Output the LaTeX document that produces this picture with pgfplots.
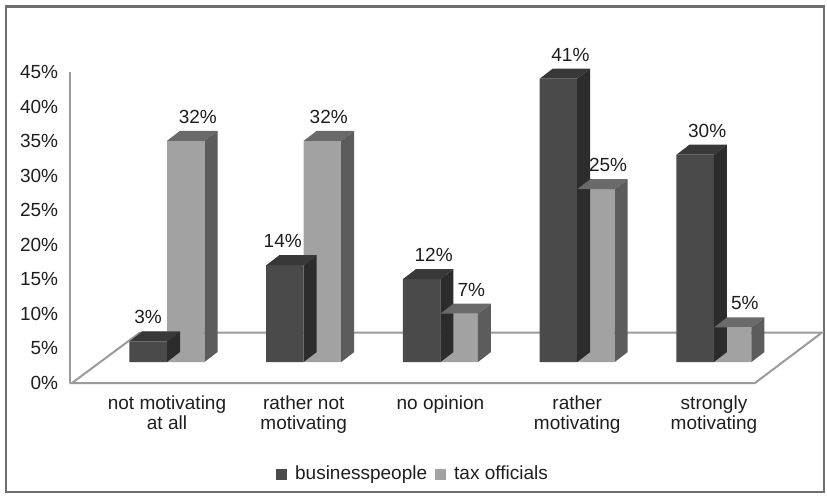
\documentclass[border=0pt]{standalone}
\usepackage{pgfplots}
\pgfplotsset{compat=1.18}
\usepackage{pgfplotstable}
\usepackage{fontspec}
\setmainfont{Liberation Sans}

\definecolor{bizfront}{RGB}{74,74,74}
\definecolor{biztop}{RGB}{56,56,56}
\definecolor{bizside}{RGB}{44,44,44}
\definecolor{taxfront}{RGB}{162,162,162}
\definecolor{taxtop}{RGB}{106,106,106}
\definecolor{taxside}{RGB}{92,92,92}
\definecolor{axgray}{RGB}{155,155,155}
\definecolor{txt}{RGB}{30,30,30}
\definecolor{framec}{RGB}{110,110,110}

\newcommand\lbl{\fontsize{9.5pt}{10pt}\selectfont}

% x = category, biz/tax = percentages, offsets for value labels (pt, relative to category centre)
\pgfplotstableread{
x biz tax bizoff taxoff
0 3  32 -9.5 15.4
1 14 32 -10.5 12.5
2 12 7  -3.4 15.4
3 41 25 -3.4 15.4
4 30 5  -3.4 15.4
}\data

% 3-D top and side faces, drawn relative to the data point (category centre, value)
\pgfdeclareplotmark{biz3d}{%
  \pgfsetfillcolor{biztop}%
  \pgfpathmoveto{\pgfqpoint{-18.75pt}{0pt}}%
  \pgfpathlineto{\pgfqpoint{-12.25pt}{5pt}}%
  \pgfpathlineto{\pgfqpoint{6.5pt}{5pt}}%
  \pgfpathlineto{\pgfqpoint{0pt}{0pt}}%
  \pgfpathclose
  \pgfusepathqfill
  \pgfsetfillcolor{bizside}%
  \pgfpathmoveto{\pgfqpoint{0pt}{0pt}}%
  \pgfpathlineto{\pgfqpoint{6.5pt}{5pt}}%
  \pgfpathlineto{\pgfpoint{6.5pt}{5pt-\barval*3.4556pt}}%
  \pgfpathlineto{\pgfpoint{0pt}{-\barval*3.4556pt}}%
  \pgfpathclose
  \pgfusepathqfill
}
\pgfdeclareplotmark{tax3d}{%
  \pgfsetfillcolor{taxtop}%
  \pgfpathmoveto{\pgfqpoint{0pt}{0pt}}%
  \pgfpathlineto{\pgfqpoint{6.5pt}{5pt}}%
  \pgfpathlineto{\pgfqpoint{25.25pt}{5pt}}%
  \pgfpathlineto{\pgfqpoint{18.75pt}{0pt}}%
  \pgfpathclose
  \pgfusepathqfill
  \pgfsetfillcolor{taxside}%
  \pgfpathmoveto{\pgfqpoint{18.75pt}{0pt}}%
  \pgfpathlineto{\pgfqpoint{25.25pt}{5pt}}%
  \pgfpathlineto{\pgfpoint{25.25pt}{5pt-\barval*3.4556pt}}%
  \pgfpathlineto{\pgfpoint{18.75pt}{-\barval*3.4556pt}}%
  \pgfpathclose
  \pgfusepathqfill
}

\pgfplotsset{/pgf/number format/assume math mode=true}

\begin{document}
\begin{tikzpicture}
\path[use as bounding box] (0pt,0pt) rectangle (413.5pt,247.5pt);
\draw[framec, line width=1.1pt] (3.2pt,1.5pt) rectangle (411.8pt,244.3pt);

% floor and value axis
\begin{axis}[
  at={(35pt,56pt)}, anchor=south west,
  x=0.5pt, y=3.4556pt,
  xmin=70, xmax=822, ymin=0, ymax=45,
  axis x line=none, axis y line*=left,
  y axis line style={axgray, line width=1pt},
  ytick={0,5,...,45}, major tick length=0pt,
  yticklabel={\pgfmathprintnumber{\tick}\%},
  yticklabel style={font=\lbl, text=txt, xshift=-2.4pt},
  clip=false,
]
\addplot[draw=axgray, line width=1pt, fill=white] coordinates {(72,0) (755,0) (822,7.3) (140,7.3)} -- cycle;
\end{axis}

% bars
\begin{axis}[
  at={(49.3125pt,66.5pt)}, anchor=south west,
  x=68.375pt, y=3.4556pt,
  xmin=-0.5, xmax=4.5, ymin=0, ymax=45,
  axis x line*=bottom, axis y line=none,
  x axis line style={draw=none},
  xtick={0,...,4}, major tick length=0pt,
  xticklabels={{not motivating\\at all},{rather not\\motivating},{no opinion},{rather\\motivating},{strongly\\motivating}},
  xticklabel style={align=center, font=\lbl, text=txt, anchor=north, yshift=-13.2pt},
  clip=false,
  legend columns=2,
  legend style={at={(0.4612,-0.3605)}, anchor=center, draw=none, fill=none,
    font=\lbl, text=txt, inner sep=0pt,
    /tikz/every odd column/.append style={column sep=2pt},
    /tikz/every even column/.append style={column sep=2pt}},
  legend image code/.code={\fill[#1] (0pt,-2.75pt) rectangle (5.5pt,2.75pt);},
]
\addplot[ybar, bar width=18.75pt, bar shift=-9.375pt, fill=bizfront, draw=none]
  table[x=x, y=biz] {\data};
\addlegendentry{businesspeople}
\addplot[scatter, only marks, mark=biz3d, forget plot,
  scatter/@pre marker code/.code={}, scatter/@post marker code/.code={},
  point meta=y,
  visualization depends on={\thisrow{biz} \as \barval},
  visualization depends on={\thisrow{bizoff} \as \lbloff},
  nodes near coords={\pgfmathprintnumber{\pgfplotspointmeta}\%},
  every node near coord/.append style={font=\lbl, text=txt, anchor=base, xshift=\lbloff pt, yshift=8.75pt},
] table[x=x, y=biz] {\data};
\addplot[ybar, bar width=18.75pt, bar shift=9.375pt, fill=taxfront, draw=none]
  table[x=x, y=tax] {\data};
\addlegendentry{tax officials}
\addplot[scatter, only marks, mark=tax3d, forget plot,
  scatter/@pre marker code/.code={}, scatter/@post marker code/.code={},
  point meta=y,
  visualization depends on={\thisrow{tax} \as \barval},
  visualization depends on={\thisrow{taxoff} \as \lbloff},
  nodes near coords={\pgfmathprintnumber{\pgfplotspointmeta}\%},
  every node near coord/.append style={font=\lbl, text=txt, anchor=base, xshift=\lbloff pt, yshift=8.75pt},
] table[x=x, y=tax] {\data};
\end{axis}
\end{tikzpicture}
\end{document}
